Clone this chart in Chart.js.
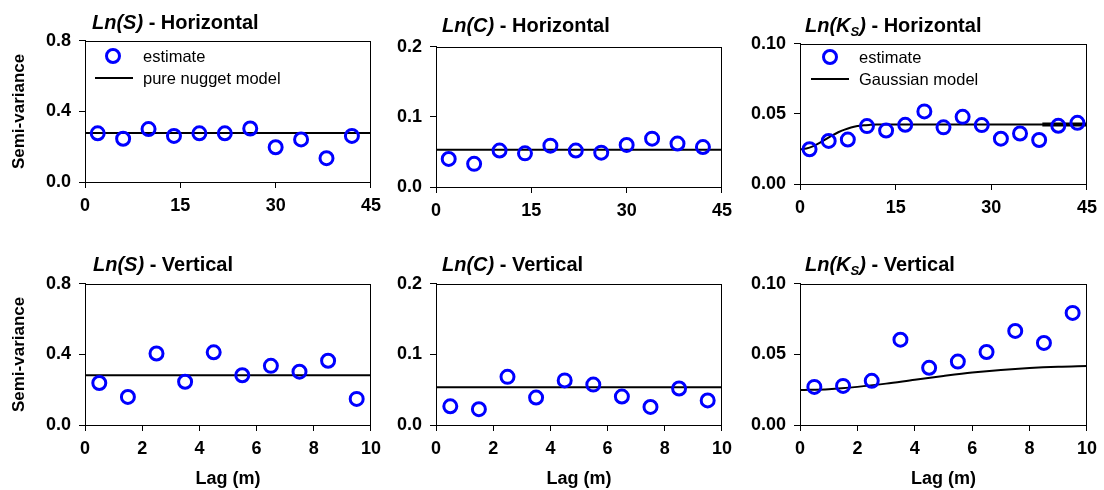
<!DOCTYPE html>
<html>
<head>
<meta charset="utf-8">
<script src="https://cdn.jsdelivr.net/npm/chart.js@4.4.0/dist/chart.umd.min.js"></script>
<style>
body { margin:0; width:1104px; height:490px; background:#fff; position:relative; overflow:hidden; font-family:"Liberation Sans", Arial, sans-serif; color:#000; }
canvas { position:absolute; }
.ttl { position:absolute; font-weight:bold; font-size:20px; line-height:22px; white-space:nowrap; z-index:2; }
.ttl sub { font-size:13px; vertical-align:-4px; line-height:0; }
.leg { position:absolute; font-size:16.5px; line-height:20px; white-space:nowrap; z-index:2; }
.dot { position:absolute; width:10px; height:10px; border:3px solid #0000ff; border-radius:50%; z-index:2; }
.ln { position:absolute; width:38px; height:2px; background:#000; z-index:2; }
</style>
</head>
<body>
<div class="ttl" style="left:92px;top:11px"><i>Ln(S)</i> - Horizontal</div>
<div class="ttl" style="left:442px;top:14px"><i>Ln(C)</i> - Horizontal</div>
<div class="ttl" style="left:805px;top:14px"><i>Ln(K<sub>S</sub>)</i> - Horizontal</div>
<div class="ttl" style="left:93px;top:253px"><i>Ln(S)</i> - Vertical</div>
<div class="ttl" style="left:442px;top:253px"><i>Ln(C)</i> - Vertical</div>
<div class="ttl" style="left:805px;top:253px"><i>Ln(K<sub>S</sub>)</i> - Vertical</div>

<div class="dot" style="left:105px;top:48px"></div>
<div class="leg" style="left:143px;top:46px">estimate</div>
<div class="ln" style="left:95px;top:77px"></div>
<div class="leg" style="left:143px;top:68px">pure nugget model</div>

<div class="dot" style="left:822px;top:49px"></div>
<div class="leg" style="left:859px;top:47px">estimate</div>
<div class="ln" style="left:811px;top:78px"></div>
<div class="leg" style="left:859px;top:69px">Gaussian model</div>

<script>
// horizontal lags and estimates
var lagH = [2, 6, 10, 14, 18, 22, 26, 30, 34, 38, 42];
var lnS_H = [0.276, 0.245, 0.300, 0.261, 0.276, 0.276, 0.303, 0.197, 0.241, 0.135, 0.261];
var lnC_H = [0.040, 0.033, 0.052, 0.048, 0.059, 0.052, 0.049, 0.060, 0.069, 0.062, 0.057];
var lagKsH = [1.5, 4.5, 7.5, 10.5, 13.5, 16.5, 19.5, 22.5, 25.5, 28.5, 31.5, 34.5, 37.5, 40.5, 43.5];
var lnKs_H = [0.0248, 0.0307, 0.0317, 0.0413, 0.0381, 0.0422, 0.0518, 0.0404, 0.0479, 0.0420, 0.0323, 0.0360, 0.0314, 0.0415, 0.0436];

// vertical lags and estimates
var lagV = [0.5, 1.5, 2.5, 3.5, 4.5, 5.5, 6.5, 7.5, 8.5, 9.5];
var lnS_V = [0.238, 0.159, 0.405, 0.245, 0.412, 0.282, 0.335, 0.302, 0.364, 0.148];
var lnC_V = [0.0265, 0.0224, 0.0682, 0.0389, 0.0632, 0.0572, 0.0403, 0.0256, 0.0517, 0.0348];
var lnKs_V = [0.027, 0.0277, 0.0313, 0.0604, 0.0405, 0.0449, 0.0517, 0.0666, 0.0581, 0.0794];

// models
var nuggetS_H = 0.278, nuggetC_H = 0.053, nuggetS_V = 0.282, nuggetC_V = 0.0535;
var gaussLagH = [0, 1, 2, 3, 4, 5, 6, 7, 8, 9, 10, 11, 12, 14, 45];
var gaussH = [0.0247, 0.0253, 0.0268, 0.0291, 0.0318, 0.0345, 0.0369, 0.0388, 0.0403, 0.0413, 0.0419, 0.0422, 0.0424, 0.0424, 0.0424];
var gaussThickLag = [38, 45];
var gaussThick = [0.0424, 0.0424];
var gaussLagV = [0, 1, 2, 3, 4, 5, 6, 7, 8, 9, 10];
var gaussV = [0.0248, 0.0254, 0.0270, 0.0293, 0.0321, 0.0347, 0.0371, 0.0390, 0.0404, 0.0413, 0.0418];

var fam = '"Liberation Sans", Arial, sans-serif';

function pts(xs, ys) {
    return xs.map(function (x, i) { return { x: x, y: ys[i] }; });
}

var boxPlugin = {
    id: 'box',
    afterDraw: function (chart) {
        var a = chart.chartArea, ctx = chart.ctx;
        ctx.save();
        ctx.strokeStyle = '#000';
        ctx.lineWidth = 1;
        ctx.strokeRect(Math.round(a.left) + 0.5, Math.round(a.top) + 0.5, Math.round(a.right - a.left) - 1, Math.round(a.bottom - a.top));
        ctx.restore();
    }
};

function addPanel(p) {
    var padTop = 14, padRight = 15;
    var xH = p.xTitle ? 65 : 40;
    var c = document.createElement('canvas');
    c.width = (p.R - p.L) + p.yW + padRight;
    c.height = (p.B - p.T) + padTop + xH;
    c.style.left = (p.L - p.yW) + 'px';
    c.style.top = (p.T - padTop) + 'px';
    document.body.appendChild(c);

    var datasets = [{
        data: pts(p.lag, p.est),
        showLine: false,
        pointStyle: 'circle',
        pointRadius: 6.5,
        pointBorderWidth: 3,
        pointBorderColor: '#0000ff',
        pointBackgroundColor: 'rgba(0,0,0,0)'
    }];
    p.lines.forEach(function (l) {
        datasets.push({
            data: pts(l.x, l.y),
            showLine: true,
            pointRadius: 0,
            borderColor: '#000',
            borderWidth: l.w || 2,
            cubicInterpolationMode: 'monotone'
        });
    });

    new Chart(c, {
        type: 'scatter',
        data: { datasets: datasets },
        options: {
            responsive: false,
            animation: false,
            devicePixelRatio: 1,
            layout: { padding: { top: padTop, right: padRight, left: 0, bottom: 0 }, autoPadding: false },
            plugins: { legend: { display: false }, tooltip: { enabled: false } },
            scales: {
                x: {
                    type: 'linear', min: 0, max: p.xMax,
                    ticks: { stepSize: p.xStep, color: '#000', padding: 7, font: { family: fam, size: 18, weight: 'bold' } },
                    grid: { drawOnChartArea: false, drawTicks: true, tickLength: 6, color: '#000' },
                    border: { display: true, color: '#000', width: 1 },
                    title: { display: !!p.xTitle, text: 'Lag (m)', color: '#000', padding: { top: 0, bottom: 0 }, font: { family: fam, size: 18, weight: 'bold' } },
                    afterFit: function (s) { s.height = xH; }
                },
                y: {
                    type: 'linear', min: 0, max: p.yMax,
                    ticks: {
                        stepSize: p.yStep, color: '#000', padding: 8,
                        font: { family: fam, size: 18, weight: 'bold' },
                        callback: function (v) { return v.toFixed(p.yDec); }
                    },
                    grid: { drawOnChartArea: false, drawTicks: true, tickLength: 6, color: '#000' },
                    border: { display: true, color: '#000', width: 1 },
                    title: { display: !!p.yTitle, text: 'Semi-variance', color: '#000', padding: { top: 9, bottom: 0 }, font: { family: fam, size: 17, weight: 'bold' } },
                    afterFit: function (s) { s.width = p.yW; }
                }
            }
        },
        plugins: [boxPlugin]
    });
}

addPanel({ L: 85, T: 36, R: 373, B: 182, yW: 85, yTitle: true, xMax: 45, xStep: 15, yMax: 0.8, yStep: 0.4, yDec: 1,
    lag: lagH, est: lnS_H, lines: [{ x: [0, 45], y: [nuggetS_H, nuggetS_H] }] });
addPanel({ L: 436, T: 42, R: 724, B: 187, yW: 60, xMax: 45, xStep: 15, yMax: 0.2, yStep: 0.1, yDec: 1,
    lag: lagH, est: lnC_H, lines: [{ x: [0, 45], y: [nuggetC_H, nuggetC_H] }] });
addPanel({ L: 800, T: 39, R: 1089, B: 184, yW: 65, xMax: 45, xStep: 15, yMax: 0.1, yStep: 0.05, yDec: 2,
    lag: lagKsH, est: lnKs_H, lines: [{ x: gaussLagH, y: gaussH }, { x: gaussThickLag, y: gaussThick, w: 4 }] });
addPanel({ L: 85, T: 279, R: 373, B: 425, yW: 85, yTitle: true, xTitle: true, xMax: 10, xStep: 2, yMax: 0.8, yStep: 0.4, yDec: 1,
    lag: lagV, est: lnS_V, lines: [{ x: [0, 10], y: [nuggetS_V, nuggetS_V] }] });
addPanel({ L: 436, T: 279, R: 724, B: 425, yW: 60, xTitle: true, xMax: 10, xStep: 2, yMax: 0.2, yStep: 0.1, yDec: 1,
    lag: lagV, est: lnC_V, lines: [{ x: [0, 10], y: [nuggetC_V, nuggetC_V] }] });
addPanel({ L: 800, T: 279, R: 1089, B: 425, yW: 65, xTitle: true, xMax: 10, xStep: 2, yMax: 0.1, yStep: 0.05, yDec: 2,
    lag: lagV, est: lnKs_V, lines: [{ x: gaussLagV, y: gaussV }] });
</script>
</body>
</html>
